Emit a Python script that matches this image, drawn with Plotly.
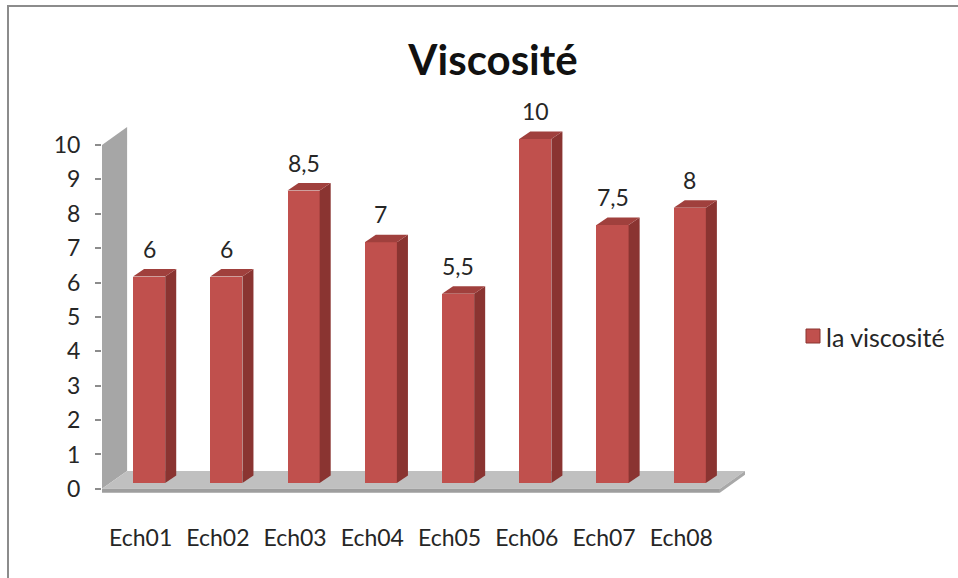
import plotly.graph_objects as go

# --- data ---
categories = ["Ech01", "Ech02", "Ech03", "Ech04", "Ech05", "Ech06", "Ech07", "Ech08"]
viscosite = [6, 6, 8.5, 7, 5.5, 10, 7.5, 8]
y_ticks = list(range(0, 11))
series_name = "la viscosité"
title_text = "Viscosité"

# --- figure geometry (pixels) ---
W, H = 958, 578
L, R, T, B = 102, 213, 127, 85
PW, PH = W - L - R, H - T - B

# pseudo-3D depth settings, in axis units
WALL_DX, WALL_DY = 0.325, 0.523      # depth of wall / floor
BAR_OX, BAR_OY = 0.11, 0.174         # front face of bars sits inside the floor
BAR_DX, BAR_DY = 0.143, 0.218        # bar depth
BAR_W = 0.416
FLOOR_T = 0.11                       # floor slab thickness

X_MIN, X_MAX = -0.5, len(categories) - 0.5 + WALL_DX
Y_MIN, Y_MAX = -0.12, 10 + WALL_DY

FRONT = "#C0504D"
TOP = "#A0403D"
SIDE = "#8A3431"
FONT = "Lato"
TXT = "#262626"


def px_to_paper(px, py):
    return (px - L) / PW, 1 - (py - T) / PH


fig = go.Figure()

xs = [i + BAR_OX for i in range(len(categories))]

# front faces
fig.add_trace(go.Bar(
    x=xs, y=viscosite, base=[BAR_OY] * len(viscosite), width=BAR_W,
    marker=dict(color=FRONT, line=dict(width=0)),
    name=series_name, showlegend=False, hoverinfo="skip",
))

# side and top faces, derived from each value
for x, v in zip(xs, viscosite):
    xl, xr = x - BAR_W / 2, x + BAR_W / 2
    yb, yt = BAR_OY, BAR_OY + v
    fig.add_trace(go.Scatter(
        x=[xr, xr + BAR_DX, xr + BAR_DX, xr, xr],
        y=[yb, yb + BAR_DY, yt + BAR_DY, yt, yb],
        fill="toself", fillcolor=SIDE, mode="lines", line=dict(width=0),
        showlegend=False, hoverinfo="skip"))
    fig.add_trace(go.Scatter(
        x=[xl, xr, xr + BAR_DX, xl + BAR_DX, xl],
        y=[yt, yt, yt + BAR_DY, yt + BAR_DY, yt],
        fill="toself", fillcolor=TOP, mode="lines", line=dict(width=0),
        showlegend=False, hoverinfo="skip"))

# value labels
for x, v in zip(xs, viscosite):
    label = f"{v:g}".replace(".", ",")
    fig.add_annotation(x=x, y=BAR_OY + v, text=label, showarrow=False,
                       yanchor="bottom", yshift=12,
                       font=dict(family=FONT, size=23, color=TXT))

# back wall and floor
x0, x1 = -0.5, len(categories) - 0.5
shapes = [
    dict(type="path", xref="x", yref="y", layer="below",
         path=f"M{x0},0 L{x0},10 L{x0 + WALL_DX},{10 + WALL_DY} L{x0 + WALL_DX},{WALL_DY} Z",
         fillcolor="#A6A6A6", line=dict(width=0)),
    dict(type="path", xref="x", yref="y", layer="below",
         path=f"M{x0},0 L{x0 + WALL_DX},{WALL_DY} L{x1 + WALL_DX},{WALL_DY} L{x1},0 Z",
         fillcolor="#C0C0C0", line=dict(width=0)),
    dict(type="path", xref="x", yref="y", layer="below",
         path=f"M{x0},0 L{x1},0 L{x1},{-FLOOR_T} L{x0},{-FLOOR_T} Z",
         fillcolor="#9E9E9E", line=dict(width=0)),
    dict(type="path", xref="x", yref="y", layer="below",
         path=f"M{x1},0 L{x1 + WALL_DX},{WALL_DY} L{x1 + WALL_DX},{WALL_DY - FLOOR_T} L{x1},{-FLOOR_T} Z",
         fillcolor="#A8A8A8", line=dict(width=0)),
]

# chart frame
bx0, by0 = px_to_paper(8, 6)
bx1, by1 = px_to_paper(W + 10, H + 10)
shapes.append(dict(type="rect", xref="paper", yref="paper",
                   x0=bx0, y0=by1, x1=bx1, y1=by0,
                   line=dict(color="#8C8C8C", width=2), fillcolor="rgba(0,0,0,0)"))

# legend key
lx0, ly0 = px_to_paper(806, 329)
lx1, ly1 = px_to_paper(820, 343)
shapes.append(dict(type="rect", xref="paper", yref="paper",
                   x0=lx0, y0=ly1, x1=lx1, y1=ly0,
                   fillcolor=FRONT, line=dict(color="#8A3431", width=1)))
tx, ty = px_to_paper(824, 337)
fig.add_annotation(xref="paper", yref="paper", x=tx, y=ty, text=series_name,
                   showarrow=False, xanchor="left", yanchor="middle",
                   font=dict(family=FONT, size=25, color=TXT))

fig.update_layout(
    width=W, height=H,
    margin=dict(l=L, r=R, t=T, b=B),
    paper_bgcolor="white", plot_bgcolor="white",
    shapes=shapes,
    title=dict(text=f"<b>{title_text}</b>", x=493 / W, xanchor="center",
               y=1 - 60 / H, yanchor="middle",
               font=dict(family=FONT, size=42, color="#111111")),
    xaxis=dict(range=[X_MIN, X_MAX], tickvals=list(range(len(categories))),
               ticktext=categories, showgrid=False, zeroline=False,
               showline=False, ticks="", ticklabelstandoff=29,
               tickfont=dict(family=FONT, size=23, color=TXT), fixedrange=True),
    yaxis=dict(range=[Y_MIN, Y_MAX], tickvals=y_ticks, showgrid=False,
               zeroline=False, showline=False, ticks="outside", ticklen=6,
               tickcolor="#8C8C8C", tickwidth=1.5, ticklabelstandoff=10,
               tickfont=dict(family=FONT, size=23, color=TXT), fixedrange=True),
    bargap=0,
)

fig.write_html("out.html")
